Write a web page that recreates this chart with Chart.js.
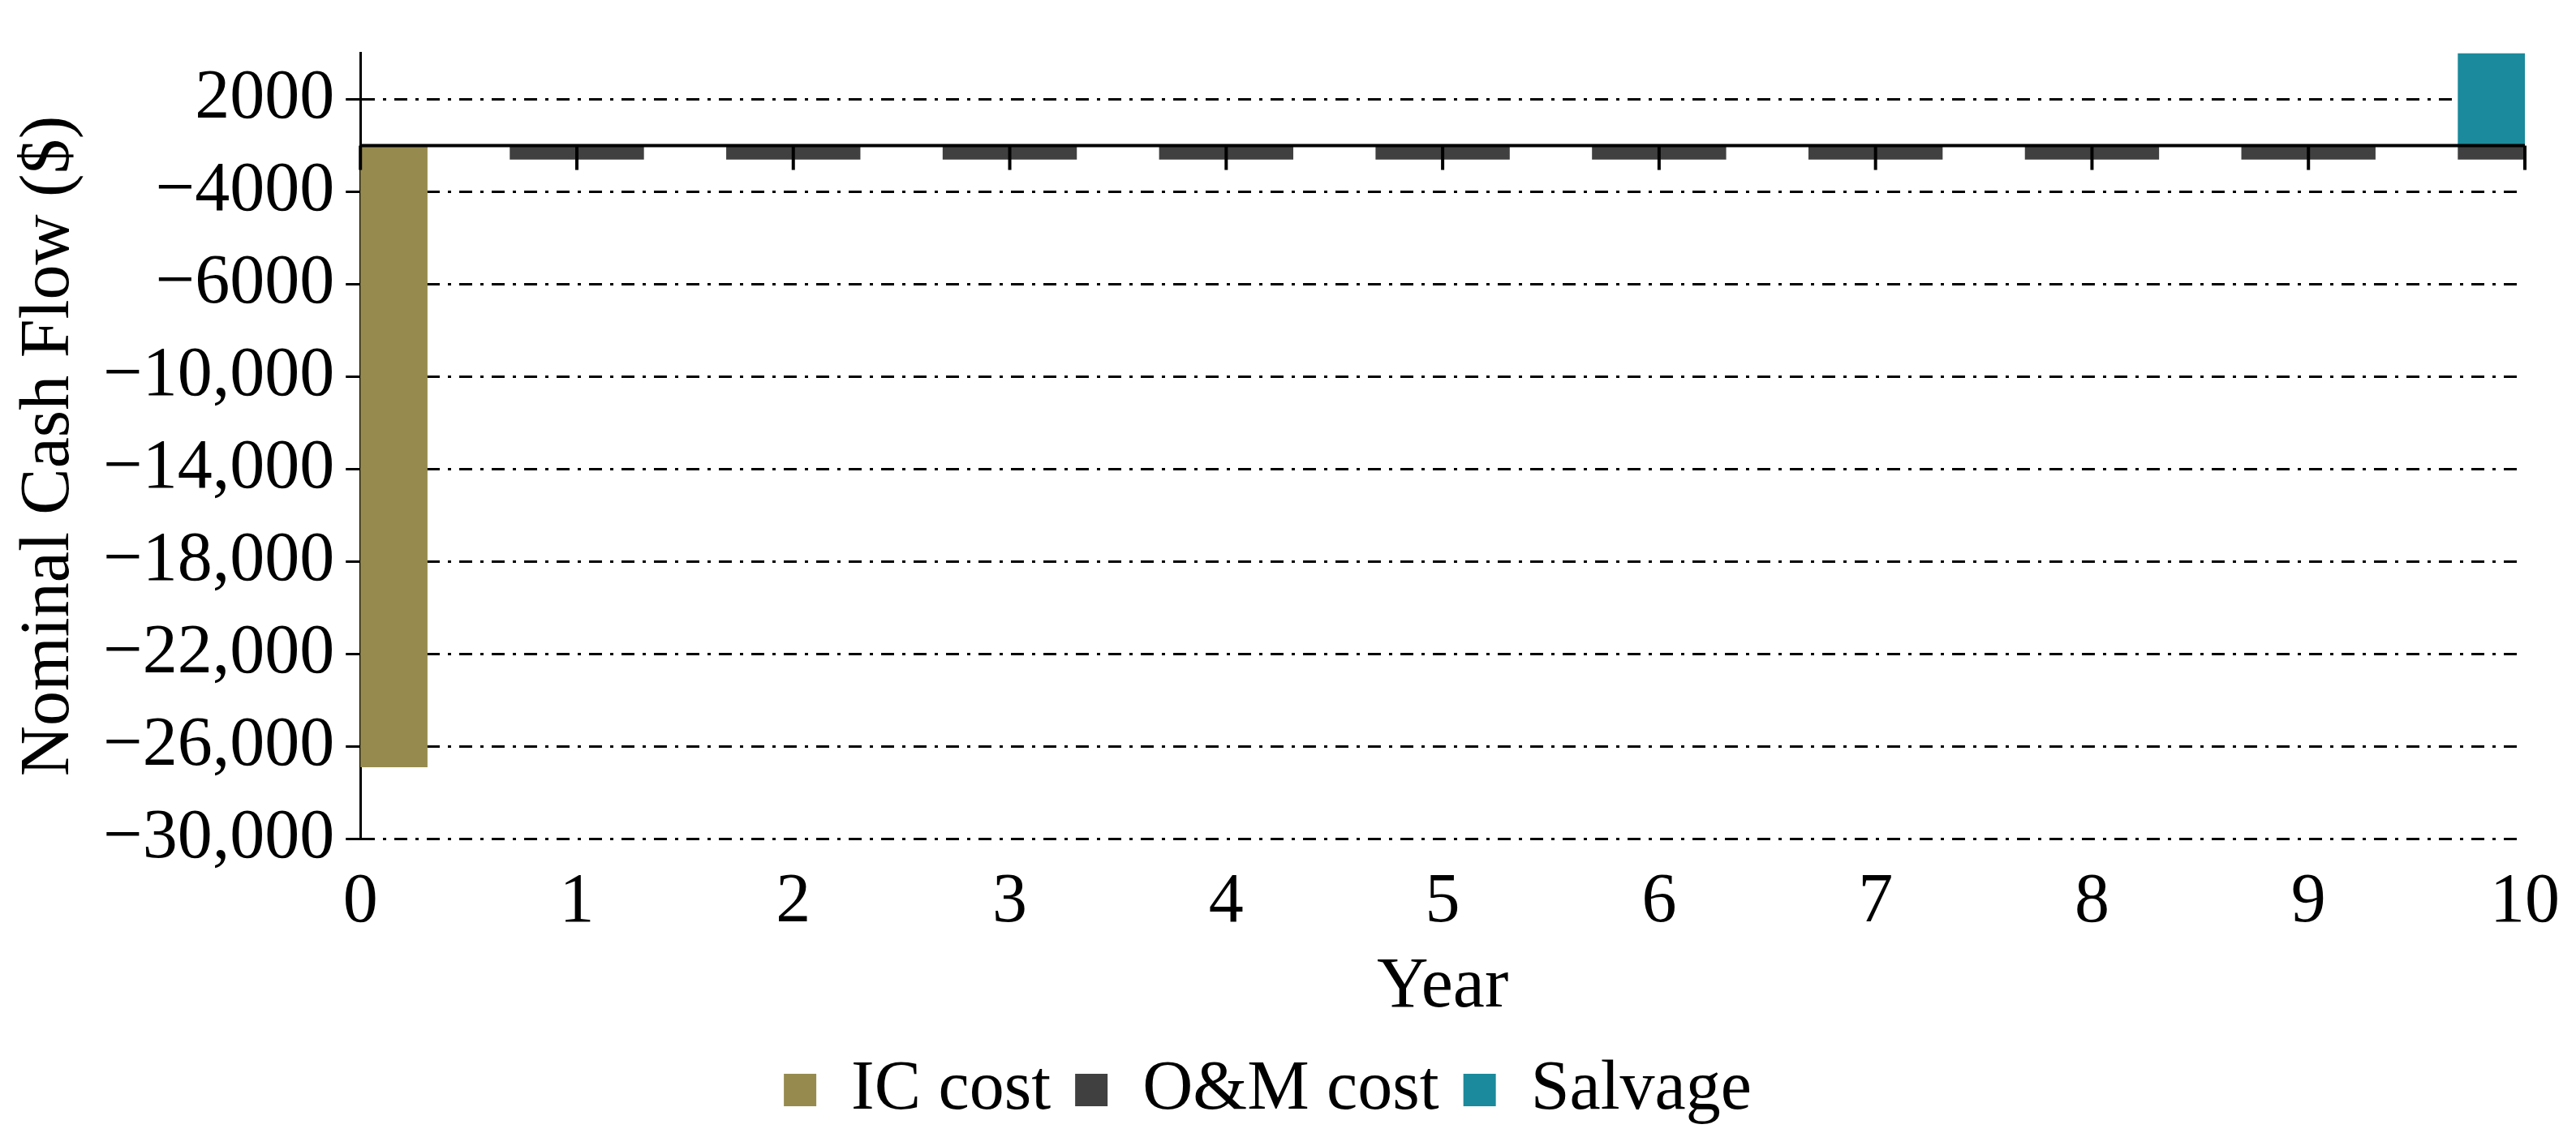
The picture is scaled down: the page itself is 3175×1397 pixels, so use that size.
<!DOCTYPE html>
<html>
<head>
<meta charset="utf-8">
<script src="https://cdn.jsdelivr.net/npm/chart.js@4/dist/chart.umd.min.js"></script>
<style>
  html, body { margin: 0; padding: 0; background: #fff; }
  #wrap { width: 3175px; height: 1397px; }
</style>
</head>
<body>
<div id="wrap"><canvas id="cashChart"></canvas></div>
<script>
const years = ["0", "1", "2", "3", "4", "5", "6", "7", "8", "9", "10"];
const icCost  = [-26900, 0, 0, 0, 0, 0, 0, 0, 0, 0, 0];
const omCost  = [0, -600, -600, -600, -600, -600, -600, -600, -600, -600, -600];
const salvage = [0, 0, 0, 0, 0, 0, 0, 0, 0, 0, 4000];
// tick labels as printed on the original axis
const tickLabels = {
    "2000": "2000", "-2000": "\u22124000", "-6000": "\u22126000",
    "-10000": "\u221210,000", "-14000": "\u221214,000", "-18000": "\u221218,000",
    "-22000": "\u221222,000", "-26000": "\u221226,000", "-30000": "\u221230,000"
};

const serif = "'Liberation Serif', 'DejaVu Serif', serif";

// zero line with category tick marks, drawn from the scales
const zeroLine = {
    id: "zeroLine",
    afterDatasetsDraw(chart) {
        const { ctx, scales: { x, y }, chartArea } = chart;
        const y0 = y.getPixelForValue(0);
        ctx.save();
        ctx.strokeStyle = "#000";
        ctx.lineWidth = 4;
        ctx.beginPath();
        ctx.moveTo(chartArea.left, y0);
        ctx.lineTo(chartArea.right, y0);
        ctx.stroke();
        years.forEach((_, i) => {
            const px = x.getPixelForValue(i);
            ctx.beginPath();
            ctx.moveTo(px, y0);
            ctx.lineTo(px, y0 + 30);
            ctx.stroke();
        });
        ctx.restore();
    }
};

new Chart(document.getElementById("cashChart"), {
    type: "bar",
    data: {
        labels: years,
        datasets: [
            { label: "IC cost", data: icCost, backgroundColor: "#968a4f" },
            { label: "O&M cost", data: omCost, backgroundColor: "#404040" },
            { label: "Salvage", data: salvage, backgroundColor: "#1a8a9c" }
        ]
    },
    options: {
        responsive: true,
        maintainAspectRatio: false,
        animation: false,
        layout: { padding: { top: 28, right: 60, left: 10, bottom: 0 } },
        datasets: { bar: { barPercentage: 0.62, categoryPercentage: 1 } },
        plugins: {
            legend: {
                position: "bottom",
                labels: {
                    font: { family: serif, size: 86 },
                    color: "#000",
                    boxWidth: 40, boxHeight: 40,
                    padding: 30
                }
            },
            tooltip: { enabled: false }
        },
        scales: {
            x: {
                stacked: true,
                offset: false,
                grid: { display: false },
                border: { color: "#000", width: 0 },
                ticks: { font: { family: serif, size: 86 }, color: "#000", padding: 20 },
                title: { display: true, text: "Year", font: { family: serif, size: 88 }, color: "#000", padding: { top: -20, bottom: 0 } }
            },
            y: {
                stacked: true,
                min: -30000, max: 4000,
                afterBuildTicks(axis) {
                    axis.ticks = Object.keys(tickLabels).map(Number).sort((a, b) => b - a).map(v => ({ value: v }));
                },
                grid: {
                    color: "#000", lineWidth: 3,
                    tickColor: "#000", tickLength: 18,
                    drawOnChartArea: true
                },
                border: { color: "#000", width: 3, dash: [16, 10, 4, 10] },
                ticks: {
                    font: { family: serif, size: 86 }, color: "#000", padding: 14,
                    callback: v => tickLabels[String(v)] || ""
                },
                title: { display: true, text: "Nominal Cash Flow ($)", font: { family: serif, size: 86 }, color: "#000", padding: 0 }
            }
        }
    },
    plugins: [zeroLine]
});
</script>
</body>
</html>
